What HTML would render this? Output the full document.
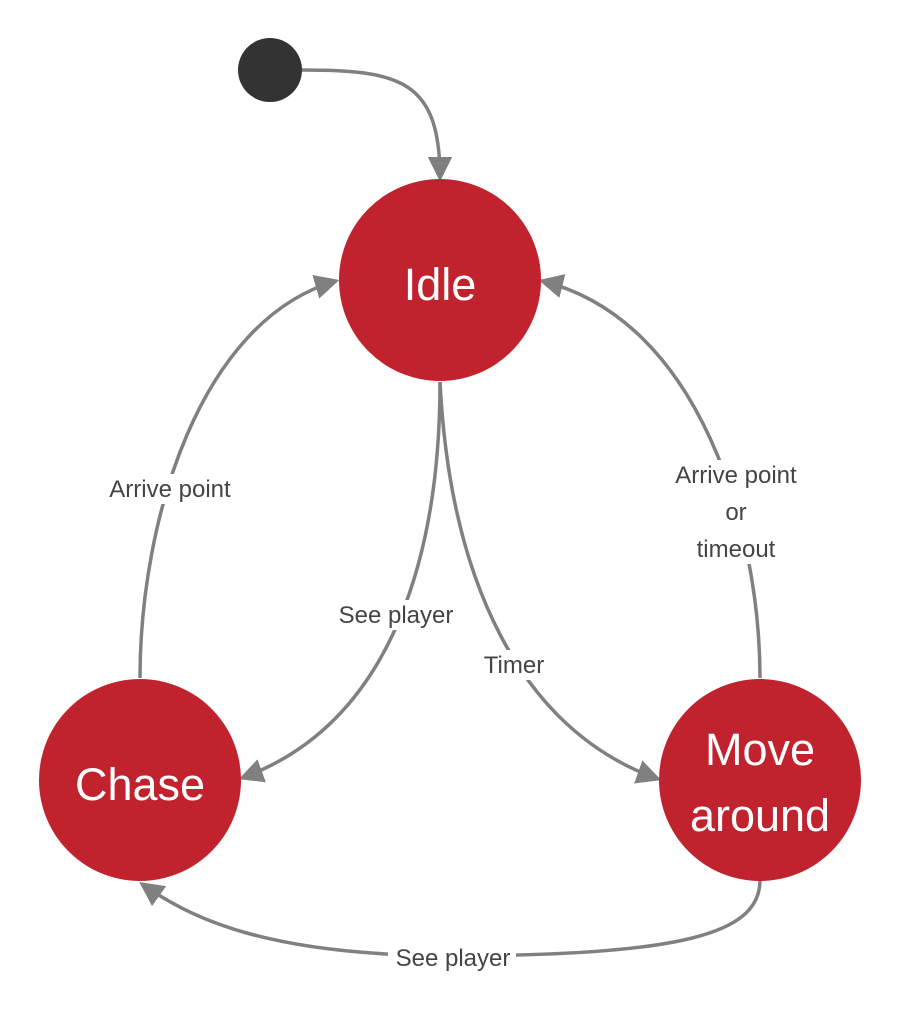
<!DOCTYPE html>
<html><head><style>
body{margin:0;background:#fff}
svg{display:block}
text{font-family:"Liberation Sans",sans-serif}
</style></head><body>
<svg width="900" height="1014" viewBox="0 0 900 1014">
<defs>
<marker id="a" markerWidth="7" markerHeight="7" refX="6" refY="3.5" orient="auto" markerUnits="strokeWidth">
<path d="M0,0 L7,3.5 L0,7 z" fill="#808080"/>
</marker>
</defs>
<g fill="none" stroke="#808080" stroke-width="3.5">
<path d="M302,70 C400,70 440,80 440,178" marker-end="url(#a)"/>
<path d="M140,678 C140,520 200,320 336,281" marker-end="url(#a)"/>
<path d="M440,382 C440,540 400,720 242,778" marker-end="url(#a)"/>
<path d="M440,382 C450,580 520,730 658,779" marker-end="url(#a)"/>
<path d="M760,678 C760,530 700,320 542,281" marker-end="url(#a)"/>
<path d="M760,880 C760,935 680,955 450,956 C280,955 200,925 142,884" marker-end="url(#a)"/>
</g>
<circle cx="270" cy="70" r="32" fill="#333"/>
<circle cx="440" cy="280" r="101" fill="#c0222e"/>
<circle cx="140" cy="780" r="101" fill="#c0222e"/>
<circle cx="760" cy="780" r="101" fill="#c0222e"/>
<g fill="#fff" font-size="45" text-anchor="middle">
<text x="440" y="300">Idle</text>
<text x="140" y="800">Chase</text>
<text x="760" y="765">Move</text>
<text x="760" y="831">around</text>
</g>
<g fill="#fff">
<rect x="98" y="474" width="144" height="30"/>
<rect x="334" y="600" width="124" height="30"/>
<rect x="476" y="650" width="76" height="30"/>
<rect x="664" y="460" width="144" height="104"/>
<rect x="388" y="942" width="128" height="30"/>
</g>
<g fill="#444" font-size="24" text-anchor="middle">
<text x="170" y="497">Arrive point</text>
<text x="396" y="623">See player</text>
<text x="514" y="673">Timer</text>
<text x="736" y="483">Arrive point</text>
<text x="736" y="520">or</text>
<text x="736" y="557">timeout</text>
<text x="453" y="966">See player</text>
</g>
</svg>
</body></html>
